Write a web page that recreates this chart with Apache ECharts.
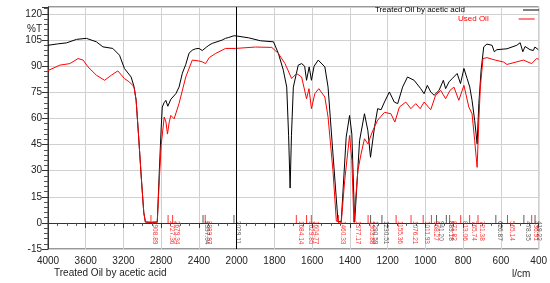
<!DOCTYPE html>
<html>
<head>
<meta charset="utf-8">
<script src="https://cdn.jsdelivr.net/npm/echarts@6/dist/echarts.min.js"></script>
<style>
html, body { margin: 0; padding: 0; background: #fff; }
#chart { width: 550px; height: 283px; }
</style>
</head>
<body>
<div id="chart"></div>
<script>
// wavenumbers (cm-1) and transmittance (%T)
const treatedWn = [4000, 3986, 3900, 3803, 3698, 3593, 3487, 3418, 3313, 3242, 3190, 3119, 3087, 3066, 3040, 3010, 2985, 2968, 2900, 2842, 2820, 2800, 2789, 2770, 2751, 2730, 2716, 2698, 2681, 2645, 2611, 2576, 2540, 2505, 2471, 2435, 2400, 2365, 2347, 2320, 2295, 2260, 2155, 2119, 2084, 2029, 1998, 1937, 1874, 1805, 1779, 1753, 1735, 1725, 1717, 1710, 1700, 1674, 1656, 1640, 1630, 1616, 1604, 1590, 1568, 1533, 1516, 1490, 1463, 1446, 1420, 1402, 1390, 1375, 1349, 1323, 1305, 1291, 1270, 1253, 1235, 1217, 1191, 1165, 1147, 1121, 1095, 1060, 1025, 1007, 990, 972, 954, 928, 905, 893, 875, 858, 832, 814, 796, 779, 765, 753, 739, 726, 717, 705, 691, 674, 647, 635, 621, 568, 516, 498, 484, 472, 446, 428, 420, 402];
const treatedT = [102, 102.1, 102.8, 103.4, 105.4, 106, 104, 101.1, 100.2, 96.3, 88.7, 83.8, 78, 70.4, 50, 25, 6, 0.5, 0.3, 0.5, 30, 55, 66.5, 69, 70.4, 67, 67.5, 71, 71.5, 74.2, 78, 86, 91, 97.5, 99.2, 100, 100.2, 99, 98.3, 101, 102, 103.1, 105, 106, 106.5, 107.5, 107.3, 106.3, 104.6, 104, 97.3, 87.7, 78, 50, 20, 50, 78, 90.6, 91.5, 90, 81.9, 89.6, 81.9, 90, 93.5, 89.6, 78, 39.6, 0.5, 1, 49.2, 61.7, 51, 0.5, 47.3, 62.7, 53, 37.7, 55, 65.6, 65, 69.4, 75.2, 69.4, 68.5, 78, 83.8, 81.9, 77.1, 74.2, 79, 75.2, 73.3, 76.1, 81.9, 77.1, 81, 82.9, 85.8, 80, 88.7, 82.9, 78, 70.4, 58.8, 45.4, 68.5, 87.7, 101.1, 102.7, 102, 98.3, 99.5, 100, 102, 103.5, 98.3, 101.3, 99.5, 99, 101, 99.5];

const usedWn = [4000, 3986, 3874, 3768, 3681, 3628, 3576, 3487, 3400, 3329, 3260, 3190, 3137, 3102, 3087, 3066, 3040, 3010, 2985, 2968, 2900, 2842, 2820, 2800, 2768, 2750, 2734, 2715, 2698, 2663, 2611, 2540, 2471, 2400, 2365, 2330, 2290, 2224, 2119, 2014, 1998, 1900, 1814, 1779, 1744, 1709, 1683, 1656, 1630, 1617, 1604, 1586, 1565, 1533, 1516, 1490, 1472, 1446, 1428, 1402, 1390, 1379, 1358, 1341, 1323, 1305, 1279, 1253, 1217, 1183, 1162, 1138, 1104, 1077, 1051, 1028, 1007, 972, 946, 919, 893, 870, 849, 823, 796, 770, 753, 739, 726, 717, 709, 695, 674, 630, 586, 568, 516, 481, 437, 411, 400];
const usedT = [87.5, 87.7, 90.6, 91.5, 94.4, 93.5, 89.6, 84.8, 81.9, 84.8, 87.3, 82.9, 80.9, 79, 77.5, 70.4, 50, 25, 6, 0.5, 0.3, 0.5, 25, 45, 60.8, 58, 51, 58, 61.7, 59.8, 68.6, 83.8, 93.5, 93, 92.5, 91.5, 95, 97.3, 100.2, 100.2, 101.1, 101, 100.8, 97.3, 91.5, 82.9, 85.8, 83.8, 71.3, 77.1, 65.6, 74.2, 77.1, 72.3, 60.8, 30, 1, 0.3, 24.2, 50.2, 36, 0.5, 30, 39.6, 48.3, 45.4, 53, 59, 63.5, 62.7, 57.9, 66.5, 69.4, 65.6, 68.5, 65.6, 69.4, 65, 73.3, 76.1, 71.3, 76.1, 78, 70.4, 79, 66.5, 62.7, 47.3, 31.9, 58.8, 78, 94.4, 94.9, 93.5, 92.4, 91, 92.5, 93.5, 91.5, 94.4, 94];

// picked peaks
const usedPeaks = [2908.89, 2727.36, 2679.34, 2333.97, 1684.14, 1629.85, 1604.77, 1460.33, 1377.17, 1303.88, 1155.36, 1076.21, 1011.93, 968.27, 871.82, 813.06, 765.74, 721.38, 565.14, 436.91];
const treatedPeaks = [2357.04, 2029.11, 1290.59, 1230.51, 941.20, 889.18, 626.87, 478.35, 419.22];

// axis is compressed 2x above 2000 cm-1
function toPos(w) { return w >= 2000 ? 4000 - w : 2000 + (2000 - w) * 2; }
function toWn(p) { return p <= 2000 ? 4000 - p : 2000 - (p - 2000) / 2; }

const font = 'Liberation Sans';

function peakSeries(name, list, color) {
  return {
    name: name,
    type: 'scatter',
    silent: true,
    symbol: 'rect',
    symbolSize: [1, 8],
    symbolOffset: [0, -4],
    itemStyle: { color: color },
    label: {
      show: true,
      rotate: -90,
      position: 'bottom',
      distance: 0,
      // offset is in the rotated frame: [down, left]
      offset: [-2, -4],
      align: 'left',
      verticalAlign: 'middle',
      fontSize: 6.5,
      fontFamily: font,
      color: color,
      formatter: p => p.data[2]
    },
    data: list.map(w => [toPos(w), 0, w.toFixed(2)]),
    z: 3
  };
}

let chart = echarts.init(document.getElementById('chart'));
let option = {
  animation: false,
  title: [
    { text: '%T', left: 22, top: 19, textStyle: { fontSize: 10, fontWeight: 'normal', color: '#222', fontFamily: font } },
    { text: 'Treated Oil by acetic acid', left: 49, top: 263, textStyle: { fontSize: 10, fontWeight: 'normal', color: '#222', fontFamily: font } },
    { text: 'l/cm', left: 507, top: 264, textStyle: { fontSize: 10, fontWeight: 'normal', color: '#222', fontFamily: font } }
  ],
  legend: [
    {
      left: 375, top: 6, align: 'right', icon: 'rect', itemWidth: 16, itemHeight: 1, padding: 0,
      textStyle: { fontSize: 8, color: '#000', padding: [0, 53, 0, 0], fontFamily: font },
      data: ['Treated Oil by acetic acid']
    },
    {
      left: 458, top: 15, align: 'right', icon: 'rect', itemWidth: 16, itemHeight: 1, padding: 0,
      textStyle: { fontSize: 8, color: '#ff0000', padding: [0, 25, 0, 0], fontFamily: font },
      data: ['Used Oil']
    }
  ],
  grid: {
    left: 48, right: 8, top: 7, bottom: 34,
    show: true, borderColor: '#333', borderWidth: 1
  },
  xAxis: {
    type: 'value',
    min: 0, max: 5200, interval: 400,
    axisLine: { lineStyle: { color: '#333' } },
    axisTick: { show: true, length: 5, lineStyle: { color: '#333' } },
    minorTick: { show: true, splitNumber: 4, length: 3, lineStyle: { color: '#555' } },
    splitLine: { show: true, lineStyle: { color: '#d0d0d0' } },
    axisLabel: { fontSize: 10, color: '#222', fontFamily: font, margin: 7, formatter: v => String(Math.round(toWn(v))) }
  },
  yAxis: {
    type: 'value',
    min: -15, max: 124, interval: 15,
    axisLine: { show: true, lineStyle: { color: '#333' } },
    axisTick: { show: true, length: 6, lineStyle: { color: '#333' } },
    minorTick: { show: true, splitNumber: 5, length: 4, lineStyle: { color: '#555' } },
    splitLine: { show: true, lineStyle: { color: '#d0d0d0' } },
    axisLabel: { fontSize: 10, color: '#222', fontFamily: font, margin: 6, showMaxLabel: false }
  },
  series: [
    {
      name: 'Treated Oil by acetic acid',
      type: 'line',
      symbol: 'none',
      lineStyle: { color: '#000', width: 1 },
      itemStyle: { color: '#000' },
      data: treatedWn.map((w, i) => [toPos(w), treatedT[i]]),
      markLine: {
        silent: true, symbol: 'none', label: { show: false },
        lineStyle: { color: '#000', width: 1, type: 'solid' },
        data: [{ xAxis: 2000 }]
      },
      z: 2
    },
    {
      name: 'Used Oil',
      type: 'line',
      symbol: 'none',
      lineStyle: { color: '#ff0000', width: 1 },
      itemStyle: { color: '#ff0000' },
      data: usedWn.map((w, i) => [toPos(w), usedT[i]]),
      z: 2
    },
    peakSeries('usedPeaks', usedPeaks, '#ff0000'),
    peakSeries('treatedPeaks', treatedPeaks, '#333')
  ]
};
chart.setOption(option);
</script>
</body>
</html>
